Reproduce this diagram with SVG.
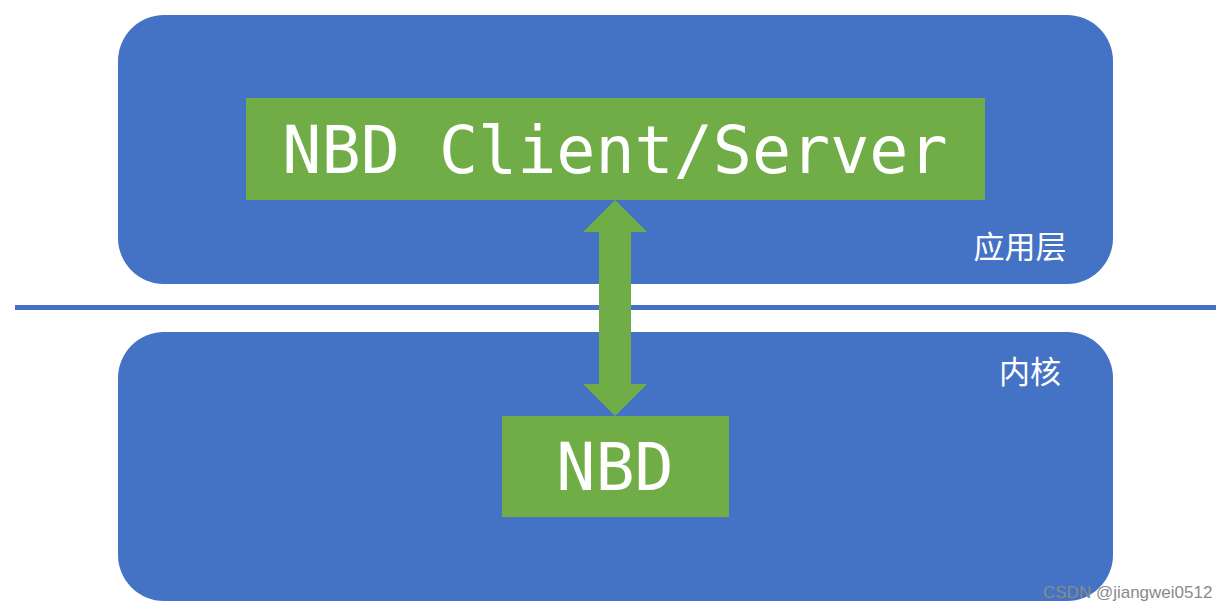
<svg xmlns="http://www.w3.org/2000/svg" width="1229" height="612" viewBox="0 0 1229 612">
<style>
.layer{fill:#4472C4}
.box{fill:#70AD47}
.mono{font-family:"DejaVu Sans Mono","Liberation Mono",monospace;fill:#fff;font-size:65px;text-anchor:middle}
.cjk{font-family:"Noto Sans CJK SC","Noto Sans",sans-serif;fill:#fff;font-size:31px}
.wm{font-family:"Liberation Sans",Arial,sans-serif;fill:#8a8a8a;font-size:17px}
</style>
<rect width="1229" height="612" fill="#fff"/>
<g id="app-layer">
<rect class="layer" x="118" y="15" width="995" height="269" rx="46" ry="46"/>
<text class="cjk" x="1020" y="258" text-anchor="middle">应用层</text>
</g>
<g id="divider">
<rect x="15" y="305" width="1201" height="5" fill="#4472C4"/>
</g>
<g id="kernel-layer">
<rect class="layer" x="118" y="332" width="995" height="269" rx="46" ry="46"/>
<text class="cjk" x="1030" y="383" text-anchor="middle">内核</text>
</g>
<g id="nbd-client-server">
<rect class="box" x="246" y="98" width="739" height="102"/>
<text class="mono" x="615" y="173">NBD Client/Server</text>
</g>
<g id="nbd">
<rect class="box" x="502" y="416" width="227" height="101"/>
<text class="mono" x="615" y="490">NBD</text>
</g>
<g id="connectors">
<polygon class="box" points="615,200 647,232 631,232 631,384 647,384 615,416 583,384 599,384 599,232 583,232"/>
</g>
<text class="wm" x="1043" y="598">CSDN @jiangwei0512</text>
</svg>
